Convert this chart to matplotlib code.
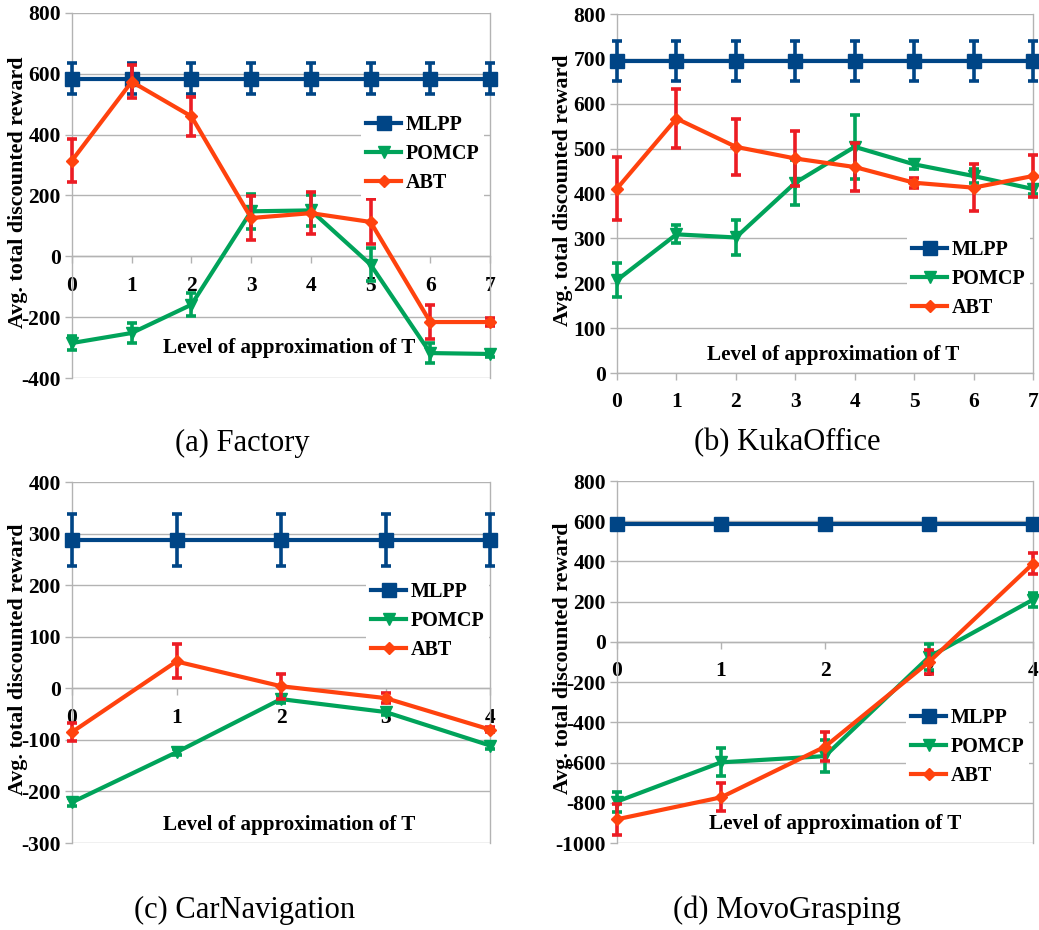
import matplotlib
matplotlib.use("Agg")
import matplotlib.pyplot as plt
import numpy as np

plt.rcParams['font.family'] = ['Liberation Serif', 'DejaVu Serif']
plt.rcParams['axes.unicode_minus'] = False

# ---------------- data ----------------
methods = ["MLPP", "POMCP", "ABT"]

fac_x = [0, 1, 2, 3, 4, 5, 6, 7]
fac_mlpp = [584, 584, 584, 584, 584, 584, 584, 584]
fac_mlpp_err = [50, 50, 50, 50, 50, 50, 50, 50]
fac_pomcp = [-285, -252, -159, 148, 151, -27, -318, -321]
fac_pomcp_err = [22, 33, 38, 57, 50, 55, 33, 10]
fac_abt = [315, 574, 460, 126, 142, 113, -216, -216]
fac_abt_err = [70, 55, 63, 71, 70, 74, 57, 12]

kuka_x = [0, 1, 2, 3, 4, 5, 6, 7]
kuka_mlpp = [695, 695, 695, 695, 695, 695, 695, 695]
kuka_mlpp_err = [45, 45, 45, 45, 45, 45, 45, 45]
kuka_pomcp = [207, 309, 302, 424, 504, 465, 439, 410]
kuka_pomcp_err = [38, 20, 40, 50, 72, 10, 15, 10]
kuka_abt = [411, 567, 504, 478, 459, 424, 413, 439]
kuka_abt_err = [71, 65, 62, 62, 54, 11, 52, 46]

car_x = [0, 1, 2, 3, 4]
car_mlpp = [287, 287, 287, 287, 287]
car_mlpp_err = [50, 50, 50, 50, 50]
car_pomcp = [-221, -124, -21, -46, -111]
car_pomcp_err = [8, 6, 8, 5, 6]
car_abt = [-85, 52, 4, -19, -80]
car_abt_err = [18, 33, 24, 9, 5]

movo_x = [0, 1, 2, 3, 4]
movo_mlpp = [585, 585, 585, 585, 585]
movo_mlpp_err = [5, 5, 5, 5, 5]
movo_pomcp = [-794, -599, -568, -75, 210]
movo_pomcp_err = [50, 70, 80, 65, 35]
movo_abt = [-882, -773, -521, -100, 389]
movo_abt_err = [78, 70, 72, 62, 52]

xlabel = "Level of approximation of T"
ylabel = "Avg. total discounted reward"
captions = ["(a) Factory", "(b) KukaOffice", "(c) CarNavigation", "(d) MovoGrasping"]

# ---------------- styling ----------------
W, H = 1039, 930
BLUE = "#004586"
GREEN = "#00a35a"
ORANGE = "#ff420e"
RED = "#ec1c24"
GRID = "#b3b3b3"
TFS = 15.5
LFS = 15.2

fig = plt.figure(figsize=(W / 100, H / 100), dpi=100)


def px_axes(x0, y0, x1, y1):
    return fig.add_axes([x0 / W, 1 - y1 / H, (x1 - x0) / W, (y1 - y0) / H])


panels = [
    dict(box=(72, 13, 490, 378), x=fac_x,
         s=[(fac_mlpp, fac_mlpp_err), (fac_pomcp, fac_pomcp_err), (fac_abt, fac_abt_err)],
         ylim=(-400, 800), ystep=200, xl=(0.52, 0.082), leg=(361, 110)),
    dict(box=(617, 14, 1033, 373), x=kuka_x,
         s=[(kuka_mlpp, kuka_mlpp_err), (kuka_pomcp, kuka_pomcp_err), (kuka_abt, kuka_abt_err)],
         ylim=(0, 800), ystep=100, xl=(0.52, 0.05), leg=(907, 235)),
    dict(box=(72, 482, 490, 843), x=car_x,
         s=[(car_mlpp, car_mlpp_err), (car_pomcp, car_pomcp_err), (car_abt, car_abt_err)],
         ylim=(-300, 400), ystep=100, xl=(0.52, 0.05), leg=(366, 577)),
    dict(box=(617, 481, 1033, 843), x=movo_x,
         s=[(movo_mlpp, movo_mlpp_err), (movo_pomcp, movo_pomcp_err), (movo_abt, movo_abt_err)],
         ylim=(-1000, 800), ystep=200, xl=(0.524, 0.052), leg=(906, 703)),
]

styles = [
    dict(color=BLUE, ecolor=BLUE, marker="s", ms=9.5),
    dict(color=GREEN, ecolor=GREEN, marker="v", ms=9),
    dict(color=ORANGE, ecolor=RED, marker="D", ms=6.5),
]

for p in panels:
    ax = px_axes(*p["box"])
    x = p["x"]
    handles = []
    for k, ((vals, errs), st) in enumerate(zip(p["s"], styles)):
        eb = ax.errorbar(x, vals, yerr=errs, color=st["color"], ecolor=st["ecolor"],
                         marker=st["marker"], ms=st["ms"], mec=st["color"], mfc=st["color"],
                         lw=3, elinewidth=2.6, capsize=3.8, capthick=2.6,
                         zorder=3 + k, clip_on=False, label=methods[k])
        for c in eb.lines[1]:
            c.set_clip_on(False)
        for c in eb.lines[2]:
            c.set_clip_on(False)
        handles.append(eb.lines[0])
    ax.set_xlim(x[0], x[-1])
    ax.set_ylim(*p["ylim"])
    ax.set_xticks(x)
    ax.set_yticks(np.arange(p["ylim"][0], p["ylim"][1] + 1, p["ystep"]))
    ax.grid(axis="y", color=GRID, lw=1)
    ax.set_axisbelow(True)
    for sp in ["top", "right", "left", "bottom"]:
        ax.spines[sp].set_color(GRID)
        ax.spines[sp].set_linewidth(1)
    ax.spines["top"].set_visible(False)
    ax.spines["bottom"].set_position(("data", 0))
    ax.tick_params(axis="x", direction="out", length=5, width=1, color=GRID, pad=9,
                   labelsize=TFS)
    ax.tick_params(axis="y", direction="out", length=5, width=1, color=GRID, pad=3,
                   labelsize=TFS)
    for lab in ax.get_xticklabels() + ax.get_yticklabels():
        lab.set_fontweight("bold")
    ax.set_ylabel(ylabel, fontsize=LFS + 0.6, fontweight="bold", va="center")
    ax.yaxis.set_label_coords(-0.13, 0.51)
    ax.text(p["xl"][0], p["xl"][1], xlabel, transform=ax.transAxes, ha="center",
            va="center", fontsize=LFS, fontweight="bold", zorder=10)
    lx, ly = p["leg"]
    leg = ax.legend(handles=handles, labels=methods, loc="upper left",
                    bbox_to_anchor=(lx / W, 1 - ly / H), bbox_transform=fig.transFigure,
                    frameon=True, facecolor="white", edgecolor="none", framealpha=1,
                    fancybox=False, borderpad=0.25, borderaxespad=0, handlelength=1.75,
                    handletextpad=0.2, labelspacing=0.45, numpoints=1,
                    prop=dict(size=14.5, weight="bold"))
    leg.set_zorder(8)

caption_pos = [(242, 443), (787, 443), (245, 910), (787, 910)]
for (cx, cy), txt in zip(caption_pos, captions):
    fig.text(cx / W, 1 - cy / H, txt, ha="center", va="center", fontsize=22)

fig.savefig("out.png", dpi=100)
